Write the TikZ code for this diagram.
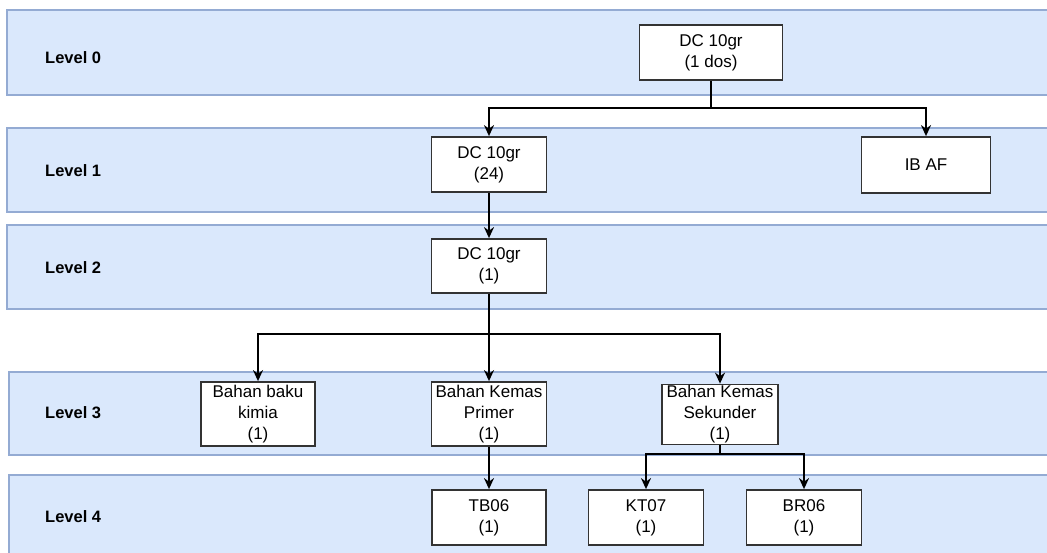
\documentclass[tikz,border=0pt]{standalone}
\usepackage{fontspec}
\setmainfont{Liberation Sans}
\usepackage{xcolor}
\usetikzlibrary{arrows.meta}
\definecolor{bandfill}{HTML}{DAE8FC}
\definecolor{bandline}{HTML}{94ABD3}
\definecolor{boxline}{HTML}{333333}

\begin{document}
\begin{tikzpicture}[x=1pt,y=-1pt,
    every node/.style={font=\fontsize{17}{21}\selectfont},
    band/.style={fill=bandfill, draw=bandline, line width=1.6pt},
    lvl/.style={anchor=west, inner sep=0pt, font=\fontsize{16.5}{18}\selectfont\bfseries},
    item/.style={draw=boxline, fill=white, line width=1.8pt, align=center, inner sep=1pt},
    arr/.style={line width=2.1pt, -{Stealth[length=11pt,width=10pt]}}]
    \useasboundingbox (0,0) rectangle (1047,552);
    \clip (0,0) rectangle (1047,552);
    % level bands
    \draw[band] (7,10) rectangle (1060,95);
    \draw[band] (7,128) rectangle (1060,212);
    \draw[band] (7,225) rectangle (1060,309);
    \draw[band] (9,372) rectangle (1060,455);
    \draw[band] (9,475) rectangle (1060,570);
    \foreach \y/\n in {58/0,171/1,268/2,413/3,517/4}
    \node[lvl] (lv\n) at (45,\y) {Level \n};

    \node[item, minimum width=143pt, minimum height=55pt] (root) at (711,52.5) {DC 10gr\\(1 dos)};
    \node[item, minimum width=115pt, minimum height=55pt] (dcA) at (489,164.5) {DC 10gr\\(24)};
    \node[item, minimum width=129pt, minimum height=56pt] (ibaf) at (926,165) {IB AF};
    \node[item, minimum width=115pt, minimum height=54pt] (dcB) at (489,266) {DC 10gr\\(1)};
    \node[item, minimum width=114pt, minimum height=64pt] (kimia) at (258,414) {Bahan baku\\kimia\\(1)};
    \node[item, minimum width=115pt, minimum height=64pt] (primer) at (489,414) {Bahan Kemas\\Primer\\(1)};
    \node[item, minimum width=116pt, minimum height=60pt] (sekunder) at (720,414.5) {Bahan Kemas\\Sekunder\\(1)};
    \node[item, minimum width=114pt, minimum height=55pt] (tb) at (489,517.5) {TB06\\(1)};
    \node[item, minimum width=115pt, minimum height=55pt] (kt) at (646,517.5) {KT07\\(1)};
    \node[item, minimum width=115pt, minimum height=55pt] (br) at (804,517.5) {BR06\\(1)};

    % branch points
    \coordinate (j0) at (711,108);
    \coordinate (j2) at (489,334);
    \coordinate (j3) at (720,454);

    \draw[line width=2.1pt] (root.south) -- (j0);
    \draw[line width=2.1pt] (dcB.south) -- (j2);
    \draw[line width=2.1pt] (sekunder.south) -- (j3);
    \foreach \from/\to in
    {j0/dcA,j0/ibaf,j2/kimia,j2/sekunder,j3/kt,j3/br}
    \draw[arr] (\from) -| (\to);
    \foreach \from/\to in
    {dcA/dcB,j2/primer,primer/tb}
    \draw[arr] (\from) -- (\to);
\end{tikzpicture}
\end{document}
